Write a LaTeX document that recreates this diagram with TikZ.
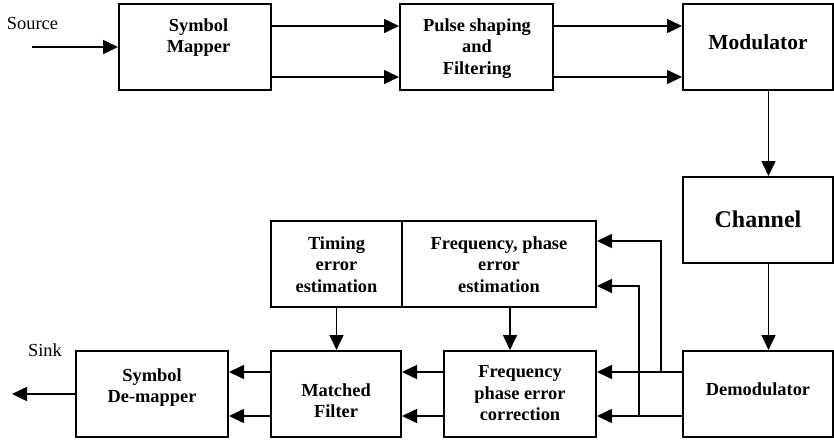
\documentclass[tikz,border=0pt]{standalone}
\usepackage{fontspec}
\setmainfont{Liberation Serif}
\usetikzlibrary{arrows.meta,calc}
\begin{document}
\begin{tikzpicture}[x=1pt,y=-1pt,
  blk/.style={draw, line width=2pt, inner sep=0pt},
  txt/.style={font=\bfseries\fontsize{18.4}{21.5}\selectfont, align=center, inner sep=0pt},
  plain/.style={font=\fontsize{18.4}{21.5}\selectfont, inner sep=0pt},
  ln/.style={line width=1.6pt},
  arr/.style={ln, -{Triangle[length=15pt,width=14pt]}}]
\useasboundingbox (0,0) rectangle (834,441);
% boxes
\node[blk, minimum width=152pt, minimum height=86pt] (sm) at (195,47) {};
\node[blk, minimum width=153pt, minimum height=86pt] (ps) at (476.5,47) {};
\node[blk, minimum width=150pt, minimum height=86pt] (mod) at (758,47) {};
\node[blk, minimum width=150pt, minimum height=86pt] (ch) at (758,220) {};
\node[blk, minimum width=150pt, minimum height=86pt] (dem) at (758,394) {};
\node[blk, minimum width=152pt, minimum height=86pt] (fpc) at (520,394) {};
\node[blk, minimum width=130pt, minimum height=86pt] (mf) at (336,394) {};
\node[blk, minimum width=152pt, minimum height=86pt] (sd) at (152,394) {};
\node[blk, minimum width=131pt, minimum height=86pt] (te) at (336.5,264) {};
\node[blk, minimum width=194pt, minimum height=86pt] (fe) at (499,264) {};
% texts
\node[txt] (smt) at (198.5,37.5) {Symbol\\Mapper};
\node[txt] (pst) at (477,48.25) {Pulse shaping\\and\\Filtering};
\node[txt, font=\bfseries\fontsize{21.5}{25}\selectfont, anchor=base] (modt) at (758,50) {Modulator};
\node[txt, font=\bfseries\fontsize{24}{28}\selectfont, anchor=base] (cht) at (758,227) {Channel};
\node[txt, anchor=base] (demt) at (758,395) {Demodulator};
\node[txt] (tet) at (336.5,264.25) {Timing\\error\\estimation};
\node[txt] (fet) at (499,264.25) {Frequency, phase\\error\\estimation};
\node[txt] (mft) at (336,400.5) {Matched\\Filter};
\node[txt] (sdt) at (152,387.5) {Symbol\\De-mapper};
\node[txt] (fpct) at (520,393.5) {Frequency\\phase error\\correction};
\node[plain, anchor=base] (srct) at (32.5,30) {Source};
\node[plain, anchor=base] (sinkt) at (45,356) {Sink};
% connectors
\coordinate (src) at (32,47);
\coordinate (snk) at (12,394);
\coordinate (j1) at (661,372);
\coordinate (j2) at (639,416);
\draw[arr] (src) -- (sm.west);
\draw[arr] (sm.east |- 0,26) -- (ps.west |- 0,26);
\draw[arr] (sm.east |- 0,77) -- (ps.west |- 0,77);
\draw[arr] (ps.east |- 0,26) -- (mod.west |- 0,26);
\draw[arr] (ps.east |- 0,77) -- (mod.west |- 0,77);
\draw[arr] ([xshift=10.5pt]mod.south) -- ([xshift=10.5pt]ch.north);
\draw[arr] ([xshift=10.5pt]ch.south) -- ([xshift=10.5pt]dem.north);
\draw[arr] ([yshift=22pt]dem.west) -- ([yshift=22pt]fpc.east);
\draw[arr] ([yshift=-22pt]dem.west) -- ([yshift=-22pt]fpc.east);
\draw[arr] (j1) |- ([yshift=23pt]fe.east);
\draw[arr] (j2) |- ([yshift=-22pt]fe.east);
\draw[arr] (te.south) -- (te.south |- mf.north);
\draw[arr] ([xshift=11pt]fe.south) -- ([xshift=11pt]fe.south |- fpc.north);
\draw[arr] ([yshift=22pt]fpc.west) -- ([yshift=22pt]mf.east);
\draw[arr] ([yshift=-22pt]fpc.west) -- ([yshift=-22pt]mf.east);
\draw[arr] ([yshift=22pt]mf.west) -- ([yshift=22pt]sd.east);
\draw[arr] ([yshift=-22pt]mf.west) -- ([yshift=-22pt]sd.east);
\draw[arr] (sd.west) -- (snk);
\end{tikzpicture}
\end{document}
